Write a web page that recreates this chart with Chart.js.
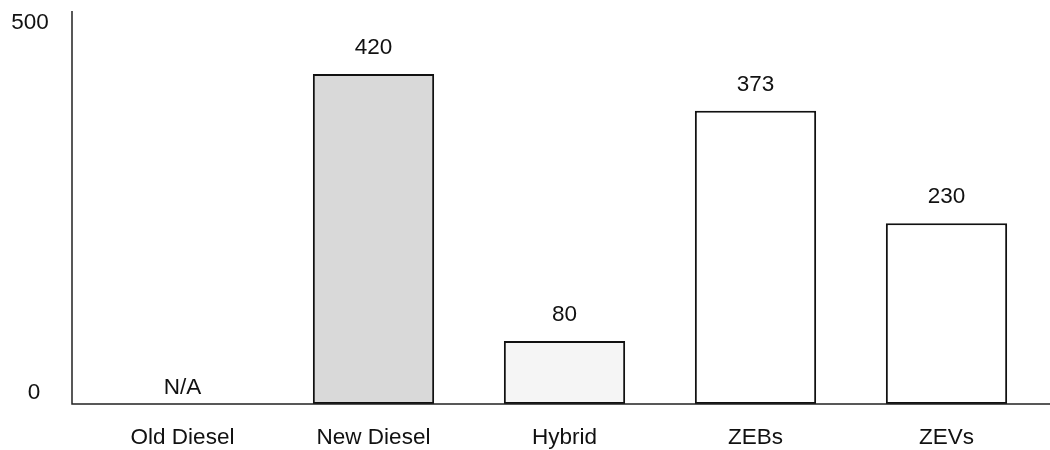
<!DOCTYPE html>
<html>
<head>
<meta charset="utf-8">
<script src="https://cdn.jsdelivr.net/npm/chart.js@4/dist/chart.umd.min.js"></script>
<style>
  html, body { margin: 0; padding: 0; background: #ffffff; }
  #wrap { width: 1050px; height: 450px; }
</style>
</head>
<body>
<div id="wrap"><canvas id="c" width="1050" height="450"></canvas></div>
<script>
// Fleet categories and the value drawn for each (null = not applicable)
const categories = ['Old Diesel', 'New Diesel', 'Hybrid', 'ZEBs', 'ZEVs'];
const values = [null, 420, 80, 373, 230];
const valueLabels = ['N/A', '420', '80', '373', '230'];
const barFills = ['rgba(0,0,0,0)', '#d9d9d9', '#f5f5f5', '#ffffff', '#ffffff'];
const yTicks = [0, 500];

const FONT = '"Liberation Sans", Arial, Helvetica, sans-serif';
const FONT_SIZE = 22.5;

// Axis lines, y tick labels and value labels above each bar
const annotate = {
  id: 'annotate',
  afterDatasetsDraw(chart) {
    const ctx = chart.ctx;
    const y = chart.scales.y;
    const x = chart.scales.x;
    const axisX = 72;
    const base = y.getPixelForValue(0);
    const top = y.getPixelForValue(500);

    ctx.save();
    ctx.strokeStyle = '#222222';
    ctx.lineWidth = 1.5;
    ctx.beginPath();
    ctx.moveTo(axisX, top);
    ctx.lineTo(axisX, base + 0.75);
    ctx.moveTo(axisX - 0.75, base);
    ctx.lineTo(chart.width, base);
    ctx.stroke();

    ctx.fillStyle = '#111111';
    ctx.font = FONT_SIZE + 'px ' + FONT;
    ctx.textBaseline = 'middle';

    // y tick labels, nudged inside the axis span
    ctx.textAlign = 'center';
    yTicks.forEach(v => {
      const py = y.getPixelForValue(v);
      const txt = String(v);
      if (v === 0) {
        ctx.fillText(txt, 34, py - 11);
      } else {
        ctx.fillText(txt, 30, py + 12);
      }
    });

    // value labels
    const meta = chart.getDatasetMeta(0);
    meta.data.forEach((bar, i) => {
      const cx = x.getPixelForValue(i);
      let py;
      if (values[i] === null) {
        py = base - 16;
      } else {
        py = y.getPixelForValue(values[i]) - 26;
      }
      ctx.fillText(valueLabels[i], cx, py);
    });
    ctx.restore();
  }
};

new Chart(document.getElementById('c'), {
  type: 'bar',
  data: {
    labels: categories,
    datasets: [{
      data: values,
      backgroundColor: barFills,
      borderColor: values.map(v => v === null ? 'rgba(0,0,0,0)' : '#111111'),
      borderWidth: 2,
      borderSkipped: false,
      categoryPercentage: 1.0,
      barPercentage: 0.635
    }]
  },
  options: {
    responsive: false,
    animation: false,
    devicePixelRatio: 1,
    layout: { padding: { top: 11, left: 87, right: 8, bottom: 0 } },
    plugins: {
      legend: { display: false },
      tooltip: { enabled: false }
    },
    scales: {
      x: {
        offset: true,
        grid: { display: false, drawTicks: false },
        border: { display: false },
        afterFit(scale) { scale.height = 46; },
        ticks: {
          color: '#111111',
          padding: 20,
          maxRotation: 0,
          font: { family: FONT, size: FONT_SIZE }
        }
      },
      y: {
        display: false,
        min: 0,
        max: 500
      }
    }
  },
  plugins: [annotate]
});
</script>
</body>
</html>
